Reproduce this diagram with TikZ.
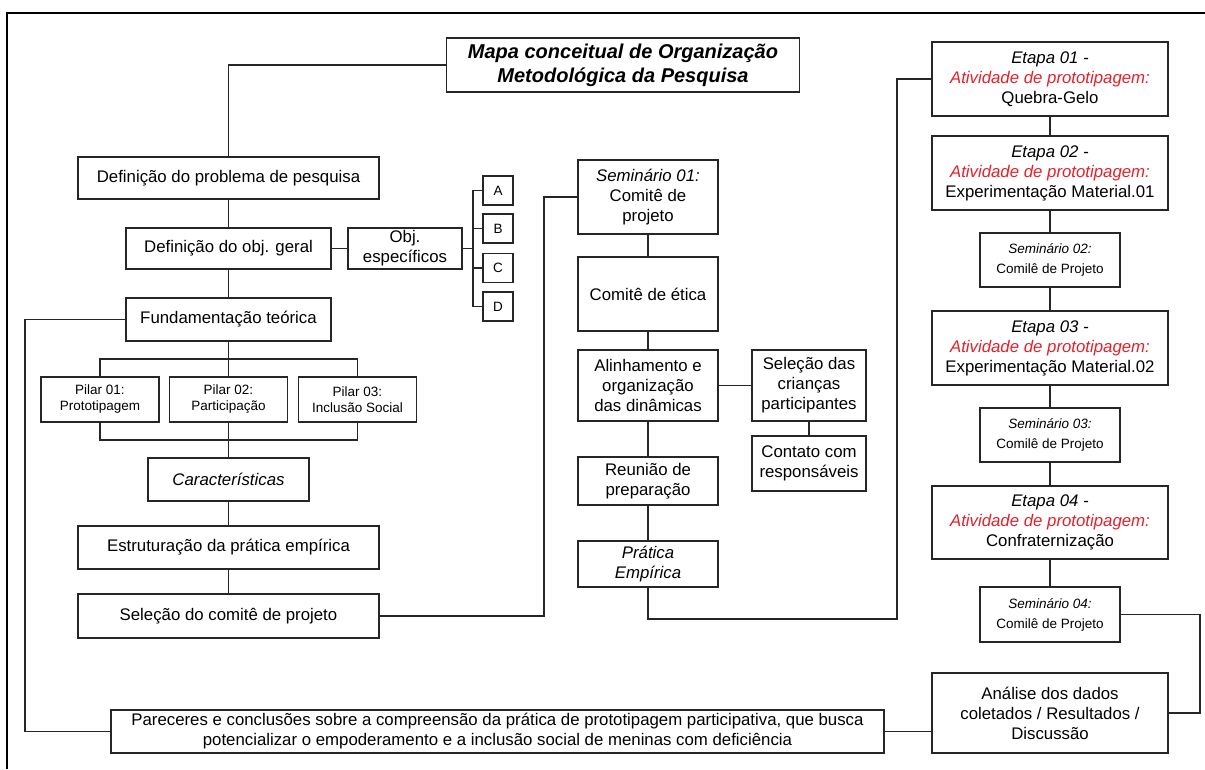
\documentclass[tikz,border=0pt]{standalone}
\usepackage{fontspec}
\setmainfont{Liberation Sans}
\usetikzlibrary{calc}
\definecolor{etred}{RGB}{228,32,42}
\newcommand{\etapa}[2]{\textit{Etapa #1 -}\\{\color{etred}\textit{Atividade de prototipagem:}}\\#2}
\newcommand{\semin}[1]{\textit{Seminário #1:}\\Comilê de Projeto}

\begin{document}
\begin{tikzpicture}[x=1pt,y=-1pt,
    box/.style={draw=black!85, line width=1.6pt, align=center, inner sep=0pt,
        font=\fontsize{16.8}{20}\selectfont},
    small/.style={box, font=\fontsize{13.5}{16}\selectfont},
    semi/.style={box, font=\fontsize{13.5}{20}\selectfont},
    wh/.style 2 args={minimum width=#1pt, minimum height=#2pt},
    link/.style={draw=black!85, line width=1.6pt}]
    \useasboundingbox (0,0) rectangle (1205,769);
    \draw[line width=1.8pt] (7,769) -- (7,13) -- (1205,13);

    % left column
    \node[box, wh={353}{54}, font=\fontsize{20}{24}\selectfont\bfseries\itshape] (title) at (623,65)
        {Mapa conceitual de Organização\\Metodológica da Pesquisa};
    \node[box, wh={300.5}{42}] (prob) at (228.5,178) {Definição do problema de pesquisa};
    \node[box, wh={205}{41}] (geral) at (228.5,248.5) {Definição do obj. geral};
    \node[box, wh={114.5}{41}] (espec) at (405,248.5) {Obj.\\específicos};
    \node[small, wh={30.5}{29}] (A) at (498,190.5) {A};
    \node[small, wh={30.5}{29}] (B) at (498,228.5) {B};
    \node[small, wh={30.5}{29}] (C) at (498,268) {C};
    \node[small, wh={30.5}{29}] (D) at (498,306.5) {D};
    \node[box, wh={205}{43}] (fund) at (228.5,319.5) {Fundamentação teórica};
    \node[small, wh={118}{45}] (pilar1) at (100,399.5) {Pilar 01:\\Prototipagem};
    \node[small, wh={118}{45}] (pilar2) at (228.5,399.5) {Pilar 02:\\Participação};
    \node[small, wh={118}{45}] (pilar3) at (357.5,399.5) {Pilar 03:\\Inclusão Social};
    \node[box, wh={161}{43}] (carac) at (228.5,479.5) {\textit{Características}};
    \node[box, wh={300.5}{43}] (estr) at (228.5,547.5) {Estruturação da prática empírica};
    \node[box, wh={300.5}{44}] (selec) at (228.5,616) {Seleção do comitê de projeto};
    \node[box, wh={773}{43}] (parec) at (497.5,731.5)
        {Pareceres e conclusões sobre a compreensão da prática de prototipagem participativa, que busca\\
         potencializar o empoderamento e a inclusão social de meninas com deficiência};

    % middle column
    \node[box, wh={140}{74}] (sem1) at (648,197) {\textit{Seminário 01:}\\Comitê de\\projeto};
    \node[box, wh={140}{74}] (etica) at (648,294) {Comitê de ética};
    \node[box, wh={140}{71}] (alin) at (648,385.5) {Alinhamento e\\organização\\das dinâmicas};
    \node[box, wh={114}{71}] (crian) at (809,385.5) {Seleção das\\crianças\\participantes};
    \node[box, wh={114}{55}] (contato) at (809,463.5) {Contato com\\responsáveis};
    \node[box, wh={140}{48}] (reun) at (648,481) {Reunião de\\preparação};
    \node[box, wh={140}{46}] (prat) at (648,564) {\textit{Prática}\\\textit{Empírica}};

    % right column
    \node[box, wh={236}{74}] (etapa1) at (1050,79) {\etapa{01}{Quebra-Gelo}};
    \node[box, wh={236}{74}] (etapa2) at (1050,173) {\etapa{02}{Experimentação Material.01}};
    \node[semi, wh={140}{54}] (sem2) at (1050,260) {\semin{02}};
    \node[box, wh={236}{74}] (etapa3) at (1050,348) {\etapa{03}{Experimentação Material.02}};
    \node[semi, wh={140}{54}] (sem3) at (1050,435) {\semin{03}};
    \node[box, wh={236}{73}] (etapa4) at (1050,522.5) {\etapa{04}{Confraternização}};
    \node[semi, wh={140}{55}] (sem4) at (1050,614.5) {\semin{04}};
    \node[box, wh={236}{80}] (anal) at (1050,713) {Análise dos dados\\coletados / Resultados /\\Discussão};

    % connectors
    \coordinate (abcd) at (473,248.5);
    \coordinate (ptop) at (228.5,359);
    \coordinate (pbot) at (228.5,440);
    \coordinate (lft) at (25,731.5);
    \coordinate (s1) at (544,197);
    \coordinate (pe) at (897,619);
    \coordinate (rt) at (1200,614.5);

    \draw[link] (title.west) -| (prob.north);
    \draw[link] (prob) -- (geral) -- (fund);
    \draw[link] (geral) -- (espec) -- (abcd);
    \foreach \l in {A,B,C,D}
        \draw[link] (abcd) |- (\l.west);
    \draw[link] (fund.west) -| (lft) -- (parec.west);
    \draw[link] (fund) -- (ptop);
    \foreach \p in {pilar1,pilar2,pilar3} {
        \draw[link] (ptop) -| (\p.north);
        \draw[link] (\p.south) |- (pbot);
    }
    \draw[link] (pbot) -- (carac) -- (estr) -- (selec);
    \draw[link] (selec.east) -| (s1) -- (sem1.west);
    \draw[link] (sem1) -- (etica) -- (alin) -- (reun) -- (prat);
    \draw[link] (alin) -- (crian) -- (contato);
    \draw[link] (prat.south) |- (pe) |- (etapa1.west);
    \draw[link] (etapa1) -- (etapa2) -- (sem2) -- (etapa3) -- (sem3) -- (etapa4) -- (sem4);
    \draw[link] (sem4.east) -- (rt) |- (anal.east);
    \draw[link] (parec.east) -- (parec.east -| anal.west);
\end{tikzpicture}
\end{document}
